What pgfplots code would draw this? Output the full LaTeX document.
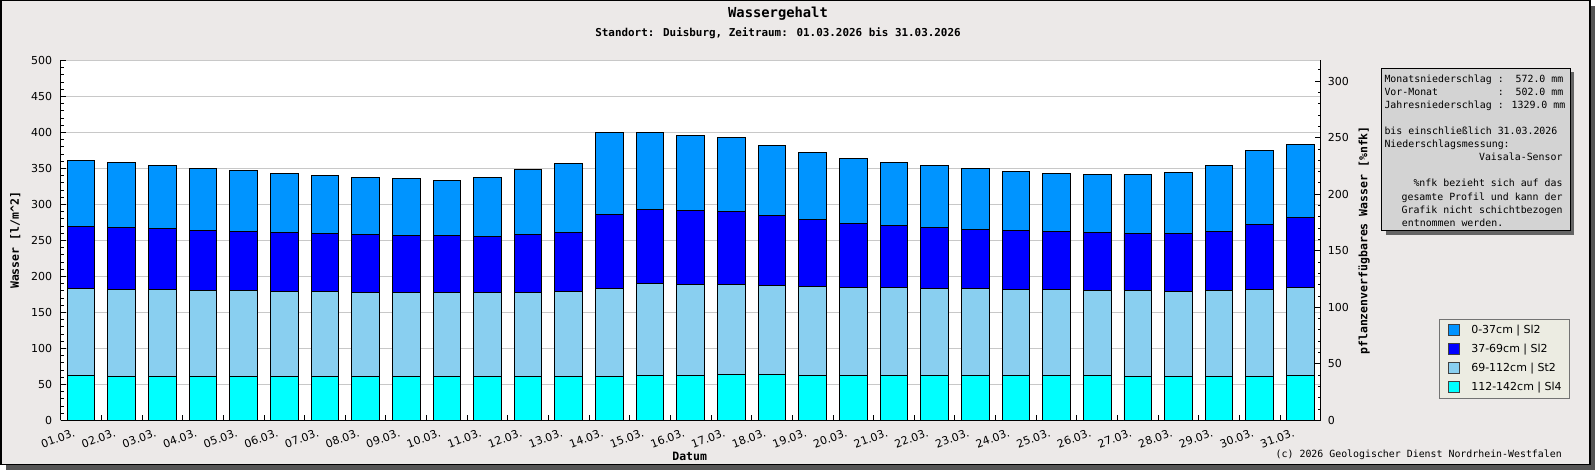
\documentclass[border=0pt]{standalone}
\usepackage{fontspec}
\setmainfont{DejaVu Sans}
\newfontfamily\mono{DejaVu Sans Mono}
\usepackage{pgfplots}
\usepackage{pgfplotstable}
\pgfplotsset{compat=1.18}
\definecolor{bgc}{RGB}{236,233,232}
\definecolor{frsh}{RGB}{85,85,85}
\definecolor{boxsh}{RGB}{100,100,100}
\definecolor{boxbg}{RGB}{211,211,211}
\definecolor{legbg}{RGB}{236,236,226}
\definecolor{gridc}{RGB}{200,200,200}
\definecolor{cA}{RGB}{0,255,255}
\definecolor{cB}{RGB}{137,207,240}
\definecolor{cC}{RGB}{0,0,255}
\definecolor{cD}{RGB}{0,148,255}
\pgfplotstableread{
x a b c d
1 62.5 120.8 86.1 91.7
2 61.1 120.9 86.0 90.3
3 61.1 120.9 84.7 87.5
4 61.1 119.5 83.3 86.1
5 61.1 119.5 81.9 84.7
6 61.1 118.1 81.9 82.0
7 61.1 118.1 80.5 80.6
8 61.1 116.7 80.5 79.2
9 61.1 116.7 79.1 79.2
10 61.1 116.7 79.1 76.4
11 61.1 116.7 77.8 81.9
12 61.1 116.7 80.5 90.3
13 61.1 118.1 81.9 95.8
14 61.1 122.2 102.8 113.9
15 62.5 127.8 102.8 106.9
16 62.5 126.4 102.8 104.1
17 63.9 125.0 101.4 102.8
18 63.9 123.6 97.2 97.2
19 62.5 123.6 93.1 93.0
20 62.5 122.2 88.9 90.3
21 62.5 122.2 86.1 87.5
22 62.5 120.8 84.8 86.1
23 62.5 120.8 82.0 84.7
24 62.5 119.5 81.9 81.9
25 62.5 119.5 80.5 80.6
26 62.5 118.1 80.5 80.6
27 61.1 119.5 79.1 82.0
28 61.1 118.1 80.5 84.7
29 61.1 119.5 81.9 91.7
30 61.1 120.9 90.2 102.8
31 62.5 122.2 97.2 101.4
}\data
\pgfplotsset{sq/.style={legend image code/.code={\draw[##1, draw=black!75, line width=0.6pt] (0pt,-5.5pt) rectangle (11pt,5.5pt);}}}
\begin{document}
\begin{tikzpicture}[x=1pt,y=1pt]
\useasboundingbox (0,0) rectangle (1595,470);
\fill[frsh] (6,0) rectangle (1595,5);
\fill[frsh] (1590,0) rectangle (1595,464);
\draw[line width=1.5pt, fill=bgc] (0.75,5.5) rectangle (1589.75,469.25);
\begin{scope}[shift={(60.7pt,49.7pt)}]
\begin{axis}[
 anchor=south west,
 scale only axis, width=1260pt, height=359.8pt,
 xmin=0.5, xmax=31.5, ymin=0, ymax=500,
 ybar stacked, bar width=0.68,
 axis x line*=bottom, axis y line*=left,
 axis line style={-, black, line width=1pt},
 axis background/.style={fill=white},
 tick align=inside,
 major tick length=5pt, minor tick length=3pt,
 tick style={black, line width=0.8pt},
 ytick={0,50,...,500}, minor ytick={10,20,...,490},
 ymajorgrids, major grid style={gridc, line width=0.8pt},
 xtick={0.5,1.5,...,31.5},
 x tick label as interval,
 xticklabels={01.03.,02.03.,03.03.,04.03.,05.03.,06.03.,07.03.,08.03.,09.03.,10.03.,11.03.,12.03.,13.03.,14.03.,15.03.,16.03.,17.03.,18.03.,19.03.,20.03.,21.03.,22.03.,23.03.,24.03.,25.03.,26.03.,27.03.,28.03.,29.03.,30.03.,31.03.},
 tick label style={font=\fontsize{11}{13}\selectfont},
 /pgf/number format/assume math mode=true,
 yticklabel style={anchor=east, inner sep=0pt, xshift=-8.4pt},
 xticklabel style={xshift=-8pt, yshift=-7.9pt, rotate=20, anchor=north east, inner sep=0pt},
 reverse legend, legend cell align=left,
 legend style={at={(1.0941,0.0611)}, anchor=south west,
   draw=black!55, line width=0.8pt, fill=legbg,
   font=\fontsize{11}{13}\selectfont,
   inner xsep=8pt, inner ysep=5pt, row sep=7.5pt, column sep=12pt,
   nodes={inner sep=0pt}},
]
\addplot[fill=cA, draw=black, line width=0.9pt, sq] table[x=x, y=a] {\data};
\addplot[fill=cB, draw=black, line width=0.9pt, sq] table[x=x, y=b] {\data};
\addplot[fill=cC, draw=black, line width=0.9pt, sq] table[x=x, y=c] {\data};
\addplot[fill=cD, draw=black, line width=0.9pt, sq] table[x=x, y=d] {\data};
\legend{112-142cm | Sl4, 69-112cm | St2, 37-69cm | Sl2, 0-37cm | Sl2}
\end{axis}
\begin{axis}[
 anchor=south west,
 scale only axis, width=1260pt, height=359.8pt,
 xmin=0.5, xmax=31.5, ymin=0, ymax=318.2,
 axis x line=none, axis y line*=right,
 axis line style={-, black, line width=1pt},
 tick align=inside,
 major tick length=5.5pt, minor tick length=3pt,
 tick style={black, line width=0.8pt},
 ytick={0,50,...,300}, minor ytick={10,20,...,310},
 tick label style={font=\fontsize{11}{13}\selectfont},
 /pgf/number format/assume math mode=true,
 yticklabel style={anchor=west, inner sep=0pt, xshift=7pt},
]
\addplot[draw=none] coordinates {(1,0)};
\end{axis}
\end{scope}
% titles and labels
\node[font=\mono\bfseries\fontsize{13.8}{16}\selectfont] at (778,456) {Wassergehalt};
\node[font=\mono\bfseries\fontsize{10.9}{13}\selectfont] at (778,437) {Standort: Duisburg, Zeitraum: 01.03.2026 bis 31.03.2026};
\node[font=\mono\bfseries\fontsize{11.5}{13}\selectfont] at (689.7,13.3) {Datum};
\node[font=\mono\bfseries\fontsize{11.5}{13}\selectfont, rotate=90] at (15.3,229.6) {Wasser [l/m\textasciicircum 2]};
\node[font=\mono\bfseries\fontsize{11.5}{13}\selectfont, rotate=90] at (1364,229.6) {pflanzenverfügbares Wasser [\%nfk]};
\node[font=\mono\fontsize{9.9}{12}\selectfont, anchor=east, inner sep=0pt] at (1562,15) {(c) 2026 Geologischer Dienst Nordrhein-Westfalen};
% info box
\fill[boxsh] (1385.7,235.3) rectangle (1574,397.7);
\filldraw[fill=boxbg, draw=black, line width=0.8pt] (1381.7,239.3) rectangle (1570,401.7);
\begin{scope}[every node/.style={font=\mono\fontsize{9.9}{12}\selectfont, inner sep=0pt}]
\node[anchor=base west] at (1384.3,387.2) {Monatsniederschlag :~~572.0 mm};
\node[anchor=base west] at (1384.3,374.2) {Vor-Monat~~~~~~~~~~:~~502.0 mm};
\node[anchor=base west] at (1384.3,361.8) {Jahresniederschlag : 1329.0 mm};
\node[anchor=base west] at (1384.3,335.8) {bis einschließlich 31.03.2026};
\node[anchor=base west] at (1384.3,322.2) {Niederschlagsmessung:};
\node[anchor=base east] at (1562.7,309.2) {Vaisala-Sensor};
\node[anchor=base east] at (1562.7,283.5) {\%nfk bezieht sich auf das};
\node[anchor=base east] at (1562.7,269.8) {gesamte Profil und kann der};
\node[anchor=base east] at (1562.7,256.5) {Grafik nicht schichtbezogen};
\node[anchor=base west] at (1401.7,243.8) {entnommen werden.};
\end{scope}
\end{tikzpicture}
\end{document}
